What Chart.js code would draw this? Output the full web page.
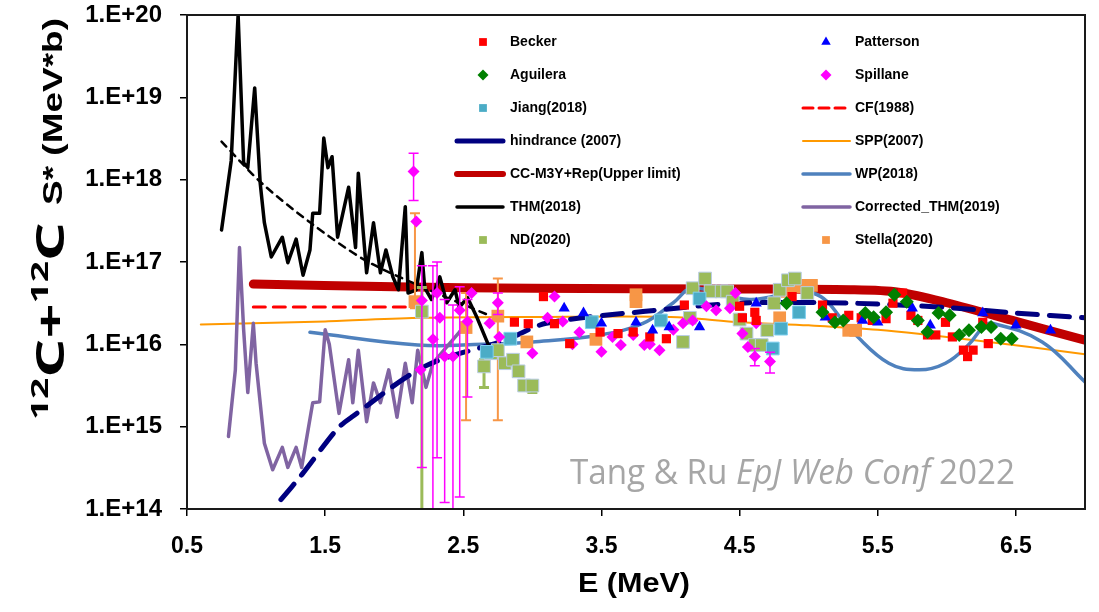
<!DOCTYPE html>
<html>
<head>
<meta charset="utf-8">
<script src="https://cdn.jsdelivr.net/npm/chart.js@4.4.1/dist/chart.umd.min.js"></script>
<style>
  html, body { margin: 0; padding: 0; background: #fff; }
  #wrap { width: 1099px; height: 612px; }
</style>
</head>
<body>
<div id="wrap"><canvas id="chart" width="1099" height="612"></canvas></div>
<script>
// axis ticks
const xTicks = [0.5, 1.5, 2.5, 3.5, 4.5, 5.5, 6.5];
const yTicks = [1e14, 1e15, 1e16, 1e17, 1e18, 1e19, 1e20];

// experimental data (E in MeV, S* in MeV*b)
const beckerE = [2.87, 2.97, 3.08, 3.16, 3.27, 3.49, 3.62, 3.73, 3.85, 3.97, 4.10, 4.50, 4.52, 4.61, 4.62, 4.88, 5.10, 5.17, 5.29, 5.38, 5.46, 5.56, 5.61, 5.68, 5.74, 5.79, 5.86, 5.92, 5.99, 6.04, 6.12, 6.15, 6.19, 6.26, 6.30];
const beckerS = [1.86e16, 1.78e16, 3.8e16, 1.78e16, 1.02e16, 1.41e16, 1.35e16, 1.41e16, 1.23e16, 1.17e16, 3.0e16, 2.9e16, 2.1e16, 2.45e16, 1.95e16, 3.8e16, 3.0e16, 2.1e16, 2.25e16, 2.1e16, 1.95e16, 2.05e16, 3.16e16, 4.2e16, 2.25e16, 1.95e16, 1.3e16, 1.3e16, 1.85e16, 1.23e16, 8.5e15, 7.1e15, 8.5e15, 1.85e16, 1.02e16];

const pattersonE = [3.23, 3.37, 3.50, 3.75, 3.87, 3.99, 4.21, 4.62, 5.12, 5.39, 5.50, 5.75, 5.88, 6.26, 6.50, 6.75];
const pattersonS = [2.75e16, 2.4e16, 1.8e16, 1.86e16, 1.48e16, 1.62e16, 1.62e16, 3.16e16, 2.14e16, 1.95e16, 1.86e16, 2.75e16, 1.7e16, 2.4e16, 1.7e16, 1.48e16];

const aguileraE = [4.84, 5.10, 5.19, 5.25, 5.41, 5.47, 5.56, 5.62, 5.71, 5.79, 5.86, 5.94, 6.02, 6.09, 6.16, 6.25, 6.32, 6.39, 6.47];
const aguileraS = [3.16e16, 2.45e16, 1.86e16, 1.95e16, 2.4e16, 2.14e16, 2.45e16, 4.0e16, 3.3e16, 1.95e16, 1.41e16, 2.4e16, 2.25e16, 1.3e16, 1.48e16, 1.62e16, 1.62e16, 1.17e16, 1.17e16];

const spillaneE = [2.14, 2.16, 2.19, 2.20, 2.28, 2.31, 2.33, 2.365, 2.425, 2.474, 2.53, 2.56, 2.69, 2.75, 2.76, 3.00, 3.11, 3.16, 3.22, 3.29, 3.34, 3.50, 3.58, 3.64, 3.73, 3.81, 3.85, 3.92, 4.02, 4.09, 4.16, 4.26, 4.33, 4.43, 4.47, 4.52, 4.56, 4.61, 4.62, 4.72];
const spillaneS = [1.26e18, 3.1e17, 4.9e15, 3.4e16, 1.15e16, 4.2e16, 2.1e16, 7.1e15, 7.1e15, 2.6e16, 1.9e16, 4.2e16, 1.8e16, 3.2e16, 1.23e16, 7.8e15, 2.1e16, 3.8e16, 1.9e16, 1.0e16, 1.4e16, 8.1e15, 1.23e16, 9.8e15, 1.3e16, 9.8e15, 1.0e16, 8.5e15, 1.5e16, 1.8e16, 1.95e16, 2.9e16, 2.6e16, 2.75e16, 4.2e16, 1.35e16, 9.3e15, 7.1e15, 1.8e16, 6.2e15];
const spillaneErrE = [2.14, 2.20, 2.28, 2.31, 2.365, 2.425, 2.474, 2.53, 2.75, 4.61, 4.72];
const spillaneErrLo = [5.6e17, 3.2e14, 8e13, 4.2e14, 1.2e14, 8e13, 1.4e14, 2.3e15, 2.3e16, 5.5e15, 4.5e15];
const spillaneErrHi = [2.1e18, 9e16, 9e16, 1.0e17, 3.5e16, 3e16, 5e16, 3.5e16, 4.2e16, 8.9e15, 8e15];

const jiangE = [2.67, 2.84, 3.43, 3.93, 4.21, 4.74, 4.80, 4.93];
const jiangS = [8.1e15, 1.17e16, 1.86e16, 1.95e16, 3.6e16, 8.9e15, 1.55e16, 2.45e16];

const ndE = [2.20, 2.65, 2.70, 2.75, 2.80, 2.86, 2.90, 2.94, 3.00, 4.09, 4.14, 4.16, 4.25, 4.29, 4.37, 4.41, 4.45, 4.50, 4.55, 4.61, 4.66, 4.70, 4.75, 4.79, 4.85, 4.90, 4.99];
const ndS = [2.5e16, 5.4e15, 7.8e15, 8.5e15, 5.9e15, 6.5e15, 4.7e15, 3.16e15, 3.16e15, 1.07e16, 2.1e16, 4.8e16, 6.3e16, 4.4e16, 4.4e16, 4.4e16, 3.3e16, 2.0e16, 1.35e16, 9.8e15, 9.8e15, 1.48e16, 3.16e16, 4.6e16, 6.0e16, 6.3e16, 4.2e16];
const ndErrE = [2.20, 2.65, 3.00];
const ndErrLo = [1e13, 3e15, 2.6e15];
const ndErrHi = [4.9e16, 6.5e15, 3.5e15];

const stellaE = [2.15, 2.52, 2.75, 2.96, 3.46, 3.75, 3.75, 4.79, 4.84, 4.91, 4.98, 5.02, 5.29, 5.34];
const stellaS = [3.3e16, 1.6e16, 2.2e16, 1.07e16, 1.15e16, 4.0e16, 3.3e16, 2.1e16, 4.4e16, 5.0e16, 5.2e16, 5.2e16, 1.48e16, 1.48e16];
const stellaErrE = [2.15, 2.52, 2.75];
const stellaErrLo = [2.75e16, 1.2e15, 1.2e15];
const stellaErrHi = [3.9e17, 4.2e16, 6.3e16];

// model / analysis curves
const cfE = [0.98, 2.17];
const cfS = [2.85e16, 2.85e16];

const hindE = [1.18, 1.33, 1.59, 1.69, 2.22, 2.8, 3.1, 3.8, 4.5, 5.3, 6.0, 6.5, 7.0];
const hindS = [1.3e14, 2.6e14, 9.5e14, 1.3e15, 5.4e15, 1.12e16, 1.8e16, 2.5e16, 3.16e16, 3.16e16, 2.8e16, 2.4e16, 2.1e16];

const sppE = [0.6, 1.5, 2.2, 3.0, 4.0, 4.5, 5.0, 5.5, 6.2, 7.0];
const sppS = [1.74e16, 1.9e16, 2.1e16, 2.15e16, 2.15e16, 1.86e16, 1.7e16, 1.5e16, 1.12e16, 7.6e15];

const ccE = [0.98, 2.0, 3.0, 4.5, 5.3, 5.65, 6.0, 6.5, 7.0];
const ccS = [5.4e16, 5.0e16, 4.8e16, 4.7e16, 4.6e16, 4.3e16, 3.2e16, 1.9e16, 1.12e16];

const wpE = [1.39, 2.17, 2.64, 3.0, 3.49, 3.8, 4.02, 4.16, 4.57, 5.03, 5.32, 5.58, 5.80, 5.99, 6.16, 6.26, 6.33, 6.69, 7.0];
const wpS = [1.4e16, 9.8e15, 1.0e16, 1.07e16, 1.3e16, 1.8e16, 3.2e16, 4.8e16, 3.5e16, 4.2e16, 1.4e16, 5.9e15, 4.9e15, 5.9e15, 1.0e16, 1.6e16, 1.8e16, 1.07e16, 3.5e15];

const thmE = [0.75, 0.82, 0.86, 0.87, 0.91, 0.94, 0.99, 1.03, 1.06, 1.11, 1.19, 1.23, 1.29, 1.34, 1.39, 1.41, 1.46, 1.49, 1.52, 1.55, 1.59, 1.67, 1.72, 1.74, 1.80, 1.85, 1.90, 1.94, 1.99, 2.03, 2.08, 2.10, 2.16, 2.20, 2.22, 2.27, 2.33, 2.38, 2.44, 2.47, 2.53, 2.60, 2.68];
const thmS = [2.45e17, 1.7e18, 4.6e19, 1.0e20, 1.6e18, 1.4e18, 1.3e19, 9e17, 3e17, 1.15e17, 2e17, 9.8e16, 1.9e17, 6.9e16, 1.4e17, 3.9e17, 3.9e17, 3.2e18, 1.4e18, 1.9e18, 2e17, 8.1e17, 1.5e17, 1.2e18, 7.4e16, 3e17, 7.4e16, 1.4e17, 6.6e16, 4.6e16, 4.7e17, 4.2e16, 4.6e16, 1.3e17, 4.9e16, 3.5e16, 6.6e16, 3.2e16, 4.6e16, 2.8e16, 3.7e16, 2.1e16, 1.0e16];

const thmFitE = [0.75, 1.04, 1.40, 1.79, 2.2, 2.7];
const thmFitS = [2.9e18, 9.1e17, 2.95e17, 1.05e17, 5e16, 2.2e16];

const corrE = [0.80, 0.85, 0.88, 0.91, 0.94, 0.98, 1.00, 1.06, 1.12, 1.19, 1.23, 1.29, 1.33, 1.41, 1.46, 1.50, 1.53, 1.60, 1.67, 1.70, 1.74, 1.80, 1.85, 1.90, 1.96, 2.02, 2.08, 2.13, 2.17, 2.23, 2.28, 2.38, 2.47, 2.55];
const corrS = [7.6e14, 4.9e15, 1.5e17, 1.5e16, 2.6e15, 1.8e16, 5.9e15, 6.3e14, 3e14, 5.6e14, 3.2e14, 5.6e14, 3.2e14, 1.95e15, 2e15, 1.5e16, 1.0e16, 1.45e15, 6.5e15, 1.95e15, 8.5e15, 1.15e15, 3.4e15, 1.95e15, 4.9e15, 1.3e15, 5.9e15, 1.95e15, 8.5e15, 3e15, 5.9e15, 9.3e15, 1.4e16, 1.95e16];

const pts = (xs, ys) => xs.map((x, i) => ({ x: x, y: ys[i] }));
const errs = (xs, lo, hi) => xs.map((x, i) => ({ x: x, lo: lo[i], hi: hi[i] }));

function lineSet(label, xs, ys, color, width, dash, order, slot, tension) {
    return {
        label: label, data: pts(xs, ys), showLine: true, pointRadius: 0,
        borderColor: color, backgroundColor: color, borderWidth: width,
        borderDash: dash, tension: tension || 0, order: order, legendSlot: slot,
        borderCapStyle: 'round', borderJoinStyle: 'round'
    };
}

function pointSet(label, xs, ys, style, color, radius, order, slot, border) {
    return {
        label: label, data: pts(xs, ys), showLine: false, pointStyle: style,
        pointRadius: radius, backgroundColor: color,
        borderColor: border || color, borderWidth: border ? 1 : 0,
        order: order, legendSlot: slot
    };
}

const datasets = [
    lineSet('CC-M3Y+Rep(Upper limit)', ccE, ccS, '#C00000', 9, [], 30, 8, 0.3),
    lineSet('CF(1988)', cfE, cfS, '#FF0000', 3, [12, 8], 29, 5),
    lineSet('SPP(2007)', sppE, sppS, '#FF9900', 2, [], 28, 7, 0.3),
    lineSet('WP(2018)', wpE, wpS, '#4F81BD', 3.5, [], 27, 9, 0.4),
    lineSet('Corrected_THM(2019)', corrE, corrS, '#8064A2', 3.5, [], 26, 11),
    lineSet('hindrance (2007)', hindE, hindS, '#000080', 5, [20, 12], 25, 6, 0.3),
    lineSet('THM fit', thmFitE, thmFitS, '#000000', 2.5, [7, 6], 24, null, 0.3),
    lineSet('THM(2018)', thmE, thmS, '#000000', 3.5, [], 23, 10),
    Object.assign(pointSet('Stella(2020)', stellaE, stellaS, 'rect', '#F79646', 9, 12, 13),
        { errorBars: { data: errs(stellaErrE, stellaErrLo, stellaErrHi), color: '#F79646', width: 2 } }),
    Object.assign(pointSet('ND(2020)', ndE, ndS, 'rect', '#9BBB59', 9, 11, 12, '#B9CDE5'),
        { errorBars: { data: errs(ndErrE, ndErrLo, ndErrHi), color: '#9BBB59', width: 3 } }),
    pointSet('Jiang(2018)', jiangE, jiangS, 'rect', '#4BACC6', 9, 10, 4, '#7FD0F0'),
    Object.assign(pointSet('Spillane', spillaneE, spillaneS, 'rectRot', '#FF00FF', 6, 9, 3),
        { errorBars: { data: errs(spillaneErrE, spillaneErrLo, spillaneErrHi), color: '#FF00FF', width: 1.5 } }),
    pointSet('Becker', beckerE, beckerS, 'rect', '#FF0000', 6.5, 8, 0),
    pointSet('Patterson', pattersonE, pattersonS, 'triangle', '#0000FF', 6.5, 7, 1),
    pointSet('Aguilera', aguileraE, aguileraS, 'rectRot', '#008000', 7, 6, 2)
];

// error bars drawn just before their dataset's markers
const errorBarPlugin = {
    id: 'errorBars',
    beforeDatasetDraw(chart, args) {
        const ds = chart.data.datasets[args.index];
        if (!ds.errorBars) return;
        const ctx = chart.ctx, a = chart.chartArea;
        const xs = chart.scales.x, ys = chart.scales.y;
        ctx.save();
        ctx.beginPath();
        ctx.rect(a.left, a.top, a.right - a.left, a.bottom - a.top);
        ctx.clip();
        ctx.strokeStyle = ds.errorBars.color;
        ctx.lineWidth = ds.errorBars.width;
        ds.errorBars.data.forEach(e => {
            const px = xs.getPixelForValue(e.x);
            const y1 = ys.getPixelForValue(e.lo);
            const y2 = ys.getPixelForValue(e.hi);
            ctx.beginPath();
            ctx.moveTo(px, y1); ctx.lineTo(px, y2);
            ctx.moveTo(px - 5, y1); ctx.lineTo(px + 5, y1);
            ctx.moveTo(px - 5, y2); ctx.lineTo(px + 5, y2);
            ctx.stroke();
        });
        ctx.restore();
    }
};

function drawParts(ctx, parts, x, y, target) {
    let total = 0;
    parts.forEach(p => { ctx.font = p.font; p.w = ctx.measureText(p.text).width; total += p.w; });
    const f = target / total;
    ctx.save();
    ctx.translate(x, y);
    ctx.scale(f, 1);
    let cx = 0;
    parts.forEach(p => { ctx.font = p.font; ctx.fillText(p.text, cx, p.dy || 0); cx += p.w; });
    ctx.restore();
}

// frame, legend, axis titles, watermark
const decorPlugin = {
    id: 'decor',
    afterDraw(chart) {
        const ctx = chart.ctx, a = chart.chartArea;
        ctx.save();
        ctx.strokeStyle = '#1a1a1a';
        ctx.lineWidth = 2;
        ctx.strokeRect(a.left, a.top, a.right - a.left, a.bottom - a.top);

        // legend, 2 columns
        const rowY = 42, rowStep = 33;
        const cols = [{ mark: 483, l0: 457, l1: 503, text: 510 }, { mark: 826, l0: 803, l1: 850, text: 855 }];
        ctx.textBaseline = 'middle';
        ctx.textAlign = 'left';
        chart.data.datasets.forEach(ds => {
            if (ds.legendSlot === null || ds.legendSlot === undefined) return;
            const c = cols[ds.legendSlot % 2];
            const y = rowY + Math.floor(ds.legendSlot / 2) * rowStep;
            if (ds.showLine) {
                ctx.save();
                ctx.strokeStyle = ds.borderColor;
                ctx.lineWidth = Math.min(ds.borderWidth, 6);
                ctx.lineCap = 'round';
                ctx.setLineDash(ds.label === 'CF(1988)' ? [10, 6] : []);
                ctx.beginPath();
                ctx.moveTo(c.l0, y); ctx.lineTo(c.l1, y);
                ctx.stroke();
                ctx.restore();
            } else {
                ctx.fillStyle = ds.backgroundColor;
                ctx.strokeStyle = ds.borderColor;
                Chart.helpers.drawPoint(ctx, { pointStyle: ds.pointStyle, radius: 5.5, rotation: 0, borderWidth: 0 }, c.mark, y);
            }
            ctx.fillStyle = '#000';
            ctx.font = 'bold 14px "Liberation Sans", Arial, sans-serif';
            ctx.fillText(ds.label, c.text, y);
        });

        // x title
        ctx.textBaseline = 'alphabetic';
        ctx.fillStyle = '#000';
        ctx.textAlign = 'left';
        drawParts(ctx, [{ text: 'E (MeV)', font: 'bold 28px "Liberation Sans", Arial, sans-serif' }], 578, 592, 112);

        // y title, rotated
        ctx.save();
        ctx.translate(64, 420);
        ctx.rotate(-Math.PI / 2);
        const big = 'bold 40px "Open Sans", sans-serif';
        const sup = 'bold 24px "Open Sans", sans-serif';
        drawParts(ctx, [
            { text: '12', font: sup, dy: -16 }, { text: 'C+', font: big },
            { text: '12', font: sup, dy: -16 }, { text: 'C', font: big }
        ], 0, 0, 198);
        drawParts(ctx, [{ text: 'S* (MeV*b)', font: 'bold 28px "Liberation Sans", Arial, sans-serif' }], 215, -2, 187);
        ctx.restore();

        // watermark
        ctx.fillStyle = '#A6A6A6';
        drawParts(ctx, [
            { text: 'Tang & Ru ', font: '34px "Open Sans", sans-serif' },
            { text: 'EpJ Web Conf', font: 'italic 34px "Open Sans", sans-serif' },
            { text: ' 2022', font: '34px "Open Sans", sans-serif' }
        ], 570, 484, 445);
        ctx.restore();
    }
};

new Chart(document.getElementById('chart'), {
    type: 'scatter',
    data: { datasets: datasets },
    plugins: [errorBarPlugin, decorPlugin],
    options: {
        responsive: false,
        animation: false,
        layout: { padding: { top: 15, right: 14, bottom: 0, left: 0 } },
        plugins: { legend: { display: false }, tooltip: { enabled: false } },
        scales: {
            x: {
                type: 'linear', min: 0.5, max: 7.0,
                afterBuildTicks: s => { s.ticks = xTicks.map(v => ({ value: v })); },
                afterFit: s => { s.height = 103; s.paddingLeft = 0; s.paddingRight = 0; },
                ticks: {
                    callback: v => v.toFixed(1), color: '#000', padding: 17, maxRotation: 0,
                    font: { family: '"Liberation Sans", Arial, sans-serif', size: 23, weight: 'bold' }
                },
                grid: { drawOnChartArea: false, color: '#000', tickLength: 7, lineWidth: 1.5 },
                border: { color: '#1a1a1a', width: 2 }
            },
            y: {
                type: 'logarithmic', min: 1e14, max: 1e20,
                afterBuildTicks: s => { s.ticks = yTicks.map(v => ({ value: v })); },
                afterFit: s => { s.width = 187; s.paddingTop = 0; s.paddingBottom = 0; },
                ticks: {
                    callback: v => '1.E+' + Math.round(Math.log10(v)), color: '#000', padding: 18,
                    font: { family: '"Liberation Sans", Arial, sans-serif', size: 24, weight: 'bold' }
                },
                grid: { drawOnChartArea: false, color: '#000', tickLength: 7, lineWidth: 1.5 },
                border: { color: '#1a1a1a', width: 2 }
            }
        }
    }
});
</script>
</body>
</html>
